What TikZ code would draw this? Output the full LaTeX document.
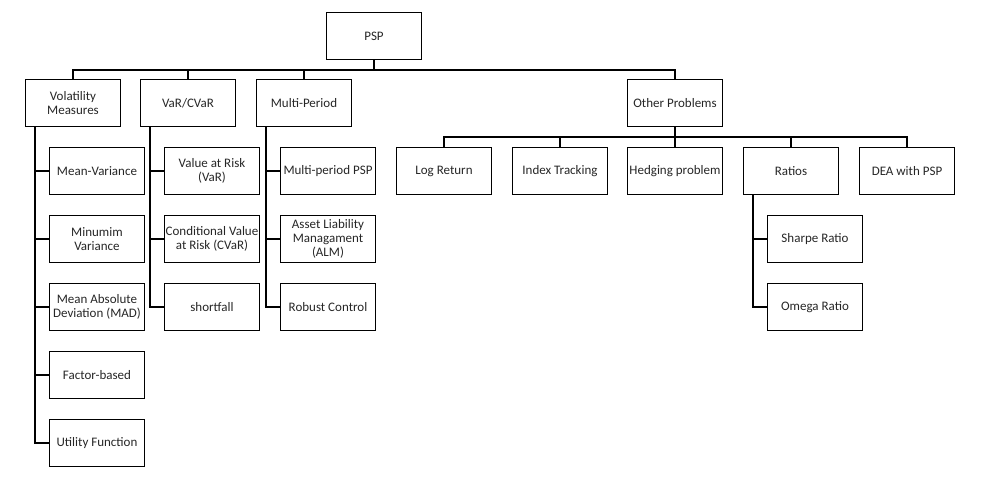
\documentclass[tikz,border=0pt]{standalone}
\usepackage{fontspec}
\setmainfont{Carlito}
\begin{document}
\begin{tikzpicture}[x=1pt,y=-1pt,
  box/.style={draw=black, line width=1.9pt, minimum width=95pt, minimum height=47pt,
    inner sep=1pt, align=center, font=\fontsize{13}{14}\selectfont, text=black!85},
  conn/.style={draw=black, line width=1.9pt}]
\useasboundingbox (0,0) rectangle (981,479);
% top
\node[box] (psp) at (374,36) {PSP};
\node[box] (vol) at (73,103) {Volatility\\Measures};
\node[box] (var) at (188,103) {VaR/CVaR};
\node[box] (mp) at (304,103) {Multi-Period};
\node[box] (other) at (675,103) {Other Problems};
% volatility children
\node[box] (mv) at (97,171) {Mean-Variance};
\node[box] (minv) at (97,239) {Minumim\\Variance};
\node[box] (mad) at (97,307) {Mean Absolute\\Deviation (MAD)};
\node[box] (fb) at (97,375) {Factor-based};
\node[box] (uf) at (97,443) {Utility Function};
% var children
\node[box] (varisk) at (212,171) {Value at Risk\\(VaR)};
\node[box] (cvar) at (212,239) {Conditional Value\\at Risk (CVaR)};
\node[box] (sf) at (212,307) {shortfall};
% multi-period children
\node[box] (mpp) at (328,171) {Multi-period PSP};
\node[box] (alm) at (328,239) {Asset Liability\\Managament\\(ALM)};
\node[box] (rc) at (328,307) {Robust Control};
% other children
\node[box] (lr) at (444,171) {Log Return};
\node[box] (it) at (560,171) {Index Tracking};
\node[box] (hp) at (675,171) {Hedging problem};
\node[box] (rat) at (791,171) {Ratios};
\node[box] (dea) at (907,171) {DEA with PSP};
\node[box] (sr) at (815,239) {Sharpe Ratio};
\node[box] (om) at (815,307) {Omega Ratio};
% connectors from PSP
\foreach \c in {vol,var,mp,other}
  \draw[conn] (psp.south) -- ++(0,9.5) -| (\c.north);
% connectors from Other Problems
\foreach \c in {lr,it,hp,rat,dea}
  \draw[conn] (other.south) -- ++(0,9.5) -| (\c.north);
% side connectors
\foreach \c in {mv,minv,mad,fb,uf}
  \draw[conn] ([xshift=10pt]vol.south west) |- (\c.west);
\foreach \c in {varisk,cvar,sf}
  \draw[conn] ([xshift=10pt]var.south west) |- (\c.west);
\foreach \c in {mpp,alm,rc}
  \draw[conn] ([xshift=10pt]mp.south west) |- (\c.west);
\foreach \c in {sr,om}
  \draw[conn] ([xshift=10pt]rat.south west) |- (\c.west);
\end{tikzpicture}
\end{document}
